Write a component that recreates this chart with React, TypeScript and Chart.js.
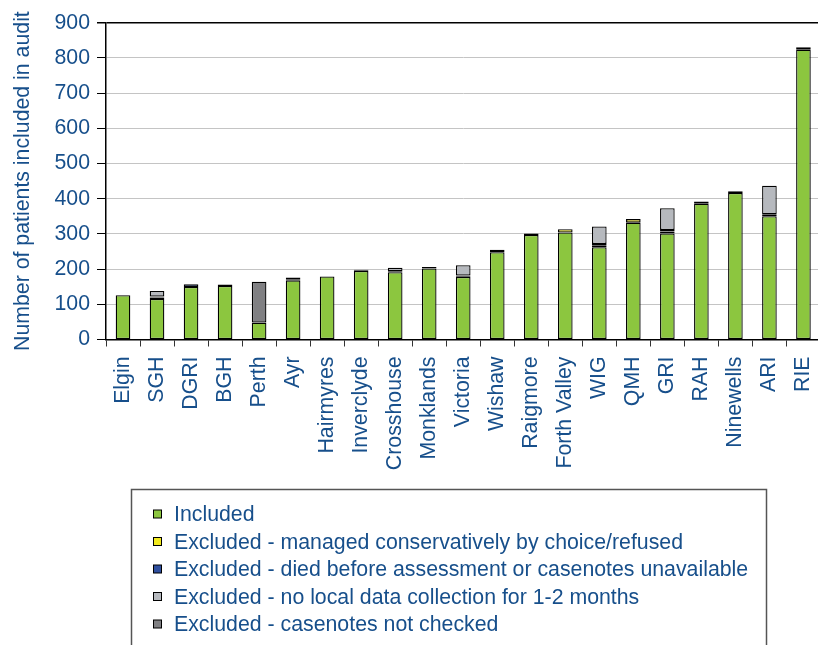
import React, { useEffect, useRef } from "react";
import { Chart, registerables } from "chart.js";

Chart.register(...registerables);

const categories = [
  "Elgin", "SGH", "DGRI", "BGH", "Perth", "Ayr", "Hairmyres", "Inverclyde",
  "Crosshouse", "Monklands", "Victoria", "Wishaw", "Raigmore", "Forth Valley",
  "WIG", "QMH", "GRI", "RAH", "Ninewells", "ARI", "RIE",
];

const included = [126, 115, 149, 152, 48, 168, 179, 195, 191, 202, 178, 248, 297, 304, 262, 332, 301, 386, 416, 350, 823];
const conservative = [0, 4, 0, 0, 0, 0, 0, 0, 0, 0, 0, 0, 0, 9, 4, 10, 6, 6, 0, 0, 0];
const died = [0, 3, 8, 4, 0, 3, 0, 3, 3, 4, 4, 7, 4, 0, 5, 0, 4, 0, 5, 6, 7];
const noLocal = [0, 16, 0, 0, 0, 5, 0, 0, 10, 0, 29, 0, 0, 0, 50, 0, 62, 0, 0, 81, 0];
const notChecked = [0, 0, 0, 0, 116, 0, 0, 0, 0, 0, 0, 0, 0, 0, 0, 0, 0, 0, 0, 0, 0];

const seriesLabels = [
  "Included",
  "Excluded - managed conservatively by choice/refused",
  "Excluded - died before assessment or casenotes unavailable",
  "Excluded - no local data collection for 1-2 months",
  "Excluded - casenotes not checked",
];
const seriesColors = ["#8cc63f", "#f2ea1e", "#2f4f9e", "#b6b9be", "#808083"];

const yMin = 0;
const yMax = 900;
const yStep = 100;
const yTitle = "Number of patients included in audit";

export default function App() {
  const ref = useRef<HTMLCanvasElement>(null);

  useEffect(() => {
    document.body.style.margin = "0";
    document.body.style.overflow = "hidden";
    const family = '"Liberation Sans", Arial, sans-serif';
    const blue = "#174f8b";
    const series = [included, conservative, died, noLocal, notChecked];
    const datasets = series.map((d, i) => ({
      label: seriesLabels[i],
      data: d.map((v) => (v === 0 ? null : v)),
      backgroundColor: seriesColors[i],
      borderColor: "#000",
      borderWidth: 1.3,
      borderSkipped: false,
      barPercentage: 0.43,
      categoryPercentage: 1,
    }));

    const legendPlugin = {
      id: "boxLegend",
      afterDraw(chart: any) {
        const ctx = chart.ctx;
        ctx.save();
        ctx.strokeStyle = "#555";
        ctx.lineWidth = 1.5;
        ctx.strokeRect(131.5, 489.5, 635, 200);
        ctx.font = `21.3px ${family}`;
        ctx.textBaseline = "middle";
        ctx.textAlign = "left";
        seriesLabels.forEach((lab, i) => {
          const y = 514 + i * 27.5;
          ctx.fillStyle = seriesColors[i];
          ctx.fillRect(153.5, y - 4, 8, 8);
          ctx.strokeStyle = "#000";
          ctx.lineWidth = 1;
          ctx.strokeRect(153.5, y - 4, 8, 8);
          ctx.fillStyle = blue;
          ctx.fillText(lab, 174, y + 1.5);
        });
        ctx.restore();
      },
    };

    const chart = new Chart(ref.current!, {
      type: "bar",
      data: { labels: categories, datasets: datasets as any },
      options: {
        responsive: false,
        animation: false,
        devicePixelRatio: 1,
        layout: { padding: { left: 0, right: 0, top: 22.7, bottom: 155.5 } },
        plugins: { legend: { display: false }, tooltip: { enabled: false } },
        scales: {
          x: {
            stacked: true,
            afterFit: (s: any) => { s.height = 150; },
            grid: {
              offset: true,
              drawOnChartArea: false,
              drawTicks: true,
              tickLength: 7,
              color: "#333",
              tickColor: "#333",
            },
            border: { color: "#000", width: 1.5 },
            ticks: {
              autoSkip: false,
              minRotation: 90,
              maxRotation: 90,
              padding: 10,
              color: blue,
              font: { family, size: 21.3 },
            },
          },
          y: {
            stacked: true,
            min: yMin,
            max: yMax,
            afterFit: (s: any) => { s.width = 106; },
            ticks: { stepSize: yStep, padding: 7, color: blue, font: { family, size: 21.3 } },
            grid: {
              color: (c: any) => (c.tick && c.tick.value === yMax ? "#000" : "#c4c4c4"),
              lineWidth: (c: any) => (c.tick && c.tick.value === yMax ? 1.5 : 1),
              tickLength: 9,
              tickColor: "#000",
              drawTicks: true,
            },
            border: { color: "#000", width: 1.5 },
            title: {
              display: true,
              text: yTitle,
              color: blue,
              font: { family, size: 21.3 },
              padding: { top: 10.5, bottom: 0 },
            },
          },
        },
      },
      plugins: [legendPlugin],
    });
    return () => chart.destroy();
  }, []);

  return (
    <div style={{ position: "fixed", left: 0, top: 0, width: 818, height: 645, overflow: "hidden", background: "#fff" }}>
      <canvas ref={ref} width={839} height={645} style={{ display: "block" }} />
    </div>
  );
}
